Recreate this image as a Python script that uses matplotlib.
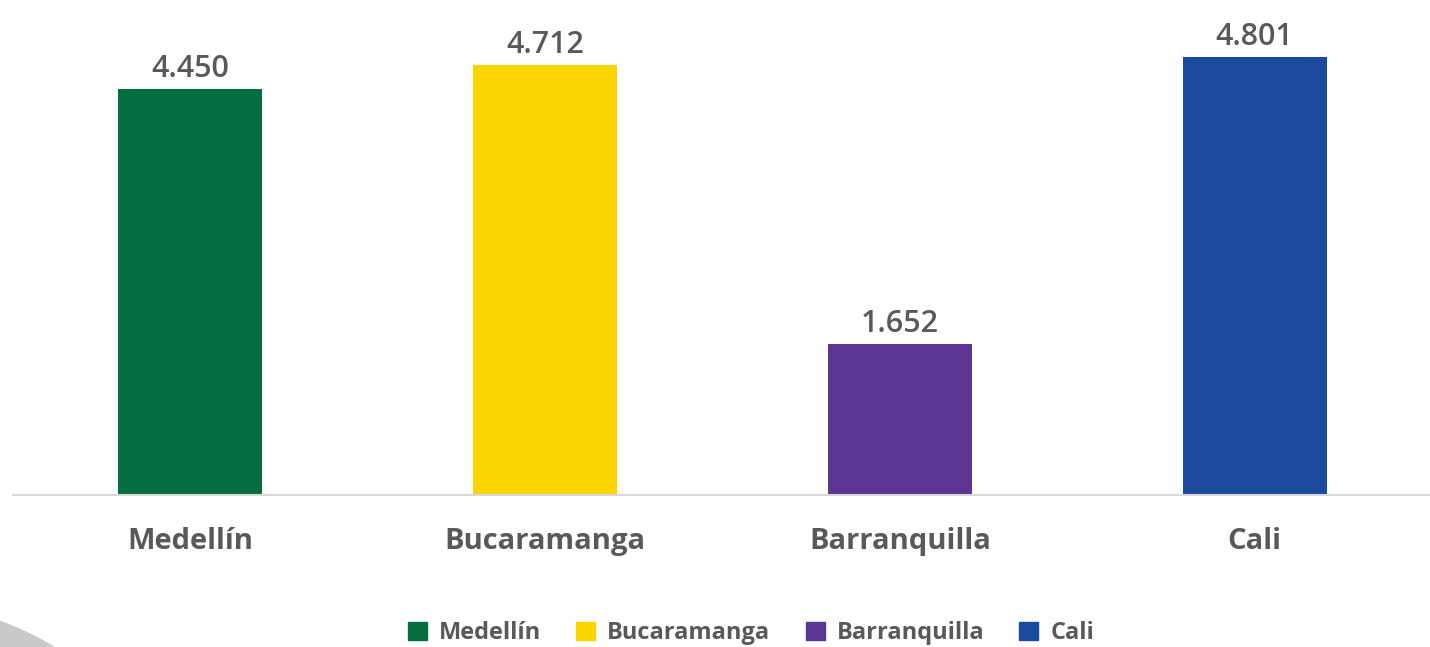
import matplotlib
matplotlib.use("Agg")
import matplotlib.pyplot as plt
from matplotlib.patches import Ellipse, Patch

cities = ["Medellín", "Bucaramanga", "Barranquilla", "Cali"]
values = [4.450, 4.712, 1.652, 4.801]
value_labels = ["4.450", "4.712", "1.652", "4.801"]
colors = ["#046E40", "#FCD400", "#5C3692", "#1B4A9F"]

TEXT = "#595959"
plt.rcParams["font.family"] = ["Open Sans", "DejaVu Sans"]

W, H = 1430, 647
fig = plt.figure(figsize=(W / 100, H / 100), dpi=100)

# decorative grey arc in the lower-left corner
fig.add_artist(Ellipse((-100 / W, 1 - 900 / H), 2 * 296 / W, 2 * 296 / H,
                       transform=fig.transFigure, color="#c9c9c9", zorder=0))

ax = fig.add_axes([13 / W, 1 - 495 / H, (W - 11) / W, 495 / H])
x = list(range(len(cities)))
ax.bar(x, values, width=0.406, color=colors, zorder=2)
for xi, v, lab in zip(x, values, value_labels):
    ax.annotate(lab, (xi, v), xytext=(0, 4), textcoords="offset points",
                ha="center", va="bottom", fontsize=22, fontweight="semibold",
                color=TEXT)

ax.set_xlim(-0.5, len(cities) - 0.5)
ax.set_ylim(0, 495 / 91.2)
ax.set_xticks(x)
ax.set_xticklabels(cities, fontsize=21, fontweight="bold", color=TEXT)
ax.tick_params(axis="x", length=0, pad=23)
ax.set_yticks([])
for side in ["top", "left", "right"]:
    ax.spines[side].set_visible(False)
ax.spines["bottom"].set_color("#d9d9d9")
ax.spines["bottom"].set_linewidth(1.5)
ax.patch.set_alpha(0)

handles = [Patch(color=c, label=n) for c, n in zip(colors, cities)]
fig.legend(handles=handles, loc="center", bbox_to_anchor=(751 / W, 1 - 633 / H),
           ncol=4, frameon=False, prop={"size": 17, "weight": "bold"},
           labelcolor=TEXT, handlelength=0.8, handleheight=0.8,
           handletextpad=0.5, columnspacing=1.5)

fig.savefig("out.png", dpi=100)
